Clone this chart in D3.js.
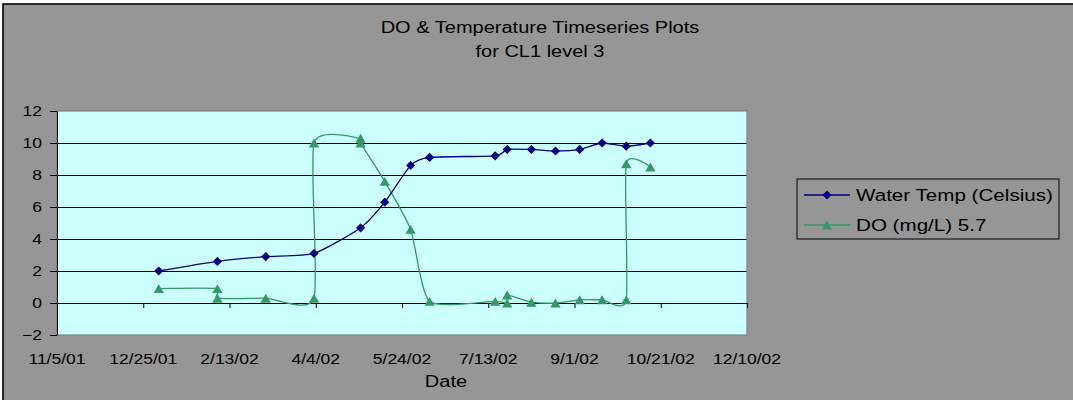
<!DOCTYPE html>
<html>
<head>
<meta charset="utf-8">
<script src="https://cdn.jsdelivr.net/npm/d3@7"></script>
<style>
  html, body { margin: 0; padding: 0; background: #ffffff; }
  svg { display: block; }
  text { font-family: "Liberation Sans", Arial, sans-serif; fill: #000; }
</style>
</head>
<body>
<svg id="chart" width="1073" height="400"></svg>
<script>
// Sampling dates and readings for CL1 level 3
const tempDates = ["1/3/02","2/6/02","3/6/02","4/3/02","4/30/02","5/14/02","5/29/02","6/9/02",
                   "7/17/02","7/24/02","8/7/02","8/21/02","9/4/02","9/17/02","10/1/02","10/15/02"];
const tempValues = [2.0, 2.6, 2.9, 3.1, 4.7, 6.3, 8.6, 9.1, 9.2, 9.6, 9.6, 9.5, 9.6, 10.0, 9.8, 10.0];

const doDates = ["1/3/02","2/6/02","2/6/02","3/6/02","4/3/02","4/3/02","4/30/02","4/30/02","5/14/02",
                 "5/29/02","6/9/02","7/17/02","7/24/02","7/24/02","8/7/02","8/21/02","9/4/02",
                 "9/17/02","10/1/02","10/1/02","10/15/02"];
const doValues = [0.9, 0.9, 0.3, 0.3, 0.3, 10.0, 10.3, 10.0, 7.6, 4.6, 0.1, 0.1, 0.0, 0.5, 0.05, 0.0,
                  0.2, 0.2, 0.2, 8.7, 8.5];

const xTickLabels = ["11/5/01","12/25/01","2/13/02","4/4/02","5/24/02","7/13/02","9/1/02","10/21/02","12/10/02"];
const yTickValues = [-2, 0, 2, 4, 6, 8, 10, 12];

const seriesNames = ["Water Temp (Celsius)", "DO (mg/L) 5.7"];
const titleLines = ["DO & Temperature Timeseries Plots", "for CL1 level 3"];
const xAxisTitle = "Date";

// ---- layout ----
const parse = d3.timeParse("%m/%d/%y");
const fmt = d3.timeFormat("%-m/%-d/%y");
const plot = { left: 57, top: 111, right: 747, bottom: 335 };
const STRETCH = 1.25;
const tempColor = "#000080";
const doColor = "#339966";

const svg = d3.select("#chart");

// horizontally widen text to the chart's proportions
function widen(sel, k) {
  sel.each(function () {
    const n = this.getComputedTextLength();
    this.setAttribute("textLength", n * k);
    this.setAttribute("lengthAdjust", "spacingAndGlyphs");
  });
}

// chart area
svg.append("rect")
  .attr("x", 3).attr("y", 4).attr("width", 1080).attr("height", 410)
  .attr("fill", "#969696").attr("stroke", "#000").attr("stroke-width", 1.6);

const xTicks = xTickLabels.map(parse);
const x = d3.scaleTime()
  .domain([xTicks[0], xTicks[xTicks.length - 1]])
  .range([plot.left, plot.right]);
const y = d3.scaleLinear()
  .domain([d3.min(yTickValues), d3.max(yTickValues)])
  .range([plot.bottom, plot.top]);

// plot area
svg.append("rect")
  .attr("x", plot.left).attr("y", plot.top)
  .attr("width", plot.right - plot.left).attr("height", plot.bottom - plot.top)
  .attr("fill", "#ccffff");

// gridlines
svg.append("g").selectAll("line")
  .data(yTickValues.filter(v => v > y.domain()[0] && v < y.domain()[1]))
  .join("line")
  .attr("x1", plot.left).attr("x2", plot.right)
  .attr("y1", d => y(d)).attr("y2", d => y(d))
  .attr("stroke", "#000").attr("stroke-width", 1)
  .attr("shape-rendering", "crispEdges");

svg.append("rect")
  .attr("x", plot.left).attr("y", plot.top)
  .attr("width", plot.right - plot.left).attr("height", plot.bottom - plot.top)
  .attr("fill", "none").attr("stroke", "#808080").attr("stroke-width", 1.2);

// y axis
const yAxis = svg.append("g")
  .attr("transform", `translate(${plot.left},0)`)
  .call(d3.axisLeft(y).tickValues(yTickValues).tickSize(7).tickSizeOuter(0).tickPadding(8)
        .tickFormat(d3.format("d")));
yAxis.select(".domain").attr("stroke", "#000");
yAxis.selectAll(".tick line").attr("stroke", "#000");
yAxis.selectAll("text")
  .attr("font-family", "'Liberation Sans', Arial, sans-serif")
  .attr("font-size", 14).attr("fill", "#000");
widen(yAxis.selectAll("text"), STRETCH);

// x axis crossing at zero
const xAxis = svg.append("g")
  .attr("transform", `translate(0,${y(0)})`)
  .call(d3.axisBottom(x).tickValues(xTicks).tickSize(5).tickSizeOuter(0).tickFormat(""));
xAxis.select(".domain").attr("stroke", "#000");
xAxis.selectAll(".tick line").attr("stroke", "#000");

// x tick labels below the plot area
const xLab = svg.append("g").selectAll("text")
  .data(xTicks)
  .join("text")
  .attr("x", d => x(d)).attr("y", 364)
  .attr("text-anchor", "middle")
  .attr("font-size", 14)
  .text(d => fmt(d));
widen(xLab, STRETCH);

// series
const tempData = tempDates.map((d, i) => ({ date: parse(d), value: tempValues[i] }));
const doData = doDates.map((d, i) => ({ date: parse(d), value: doValues[i] }));

const line = d3.line()
  .x(d => x(d.date)).y(d => y(d.value))
  .curve(d3.curveCardinal.tension(0.4));

svg.append("path").datum(doData)
  .attr("d", line).attr("fill", "none")
  .attr("stroke", doColor).attr("stroke-width", 1.3);
svg.append("path").datum(tempData)
  .attr("d", line).attr("fill", "none")
  .attr("stroke", tempColor).attr("stroke-width", 1.3);

const diamond = d3.symbol().type(d3.symbolSquare).size(42);
const triangle = d3.symbol().type(d3.symbolTriangle).size(46);
const triShift = Math.sqrt(46 / (Math.sqrt(3) / 4)) * Math.sqrt(3) / 2 / 6;

svg.append("g").selectAll("path")
  .data(doData)
  .join("path")
  .attr("d", triangle)
  .attr("transform", d => `translate(${x(d.date)},${y(d.value) + triShift})`)
  .attr("fill", doColor);

svg.append("g").selectAll("path")
  .data(tempData)
  .join("path")
  .attr("d", diamond)
  .attr("transform", d => `translate(${x(d.date)},${y(d.value)}) rotate(45)`)
  .attr("fill", tempColor);

// titles
const title = svg.append("g").selectAll("text")
  .data(titleLines)
  .join("text")
  .attr("x", 540).attr("y", (d, i) => 33 + i * 24)
  .attr("text-anchor", "middle")
  .attr("font-size", 16)
  .text(d => d);
widen(title, STRETCH);

const xt = svg.append("text")
  .attr("x", 446).attr("y", 387)
  .attr("text-anchor", "middle")
  .attr("font-size", 16)
  .text(xAxisTitle);
widen(xt, STRETCH);

// legend
const legend = svg.append("g");
legend.append("rect")
  .attr("x", 797).attr("y", 179).attr("width", 262).attr("height", 60)
  .attr("fill", "none").attr("stroke", "#000").attr("stroke-width", 1);

const rows = [
  { name: seriesNames[0], color: tempColor, sym: diamond, rot: 45 },
  { name: seriesNames[1], color: doColor, sym: triangle, rot: 0 }
];
rows.forEach((r, i) => {
  const cy = 195 + i * 30;
  legend.append("line")
    .attr("x1", 804).attr("x2", 850).attr("y1", cy).attr("y2", cy)
    .attr("stroke", r.color).attr("stroke-width", 1.3);
  legend.append("path")
    .attr("d", r.sym)
    .attr("transform", `translate(827,${cy + (r.rot ? 0 : triShift)}) rotate(${r.rot})`)
    .attr("fill", r.color);
  const t = legend.append("text")
    .attr("x", 856).attr("y", cy + 6)
    .attr("font-size", 16)
    .text(r.name);
  widen(t, STRETCH * 1.03);
});
</script>
</body>
</html>
